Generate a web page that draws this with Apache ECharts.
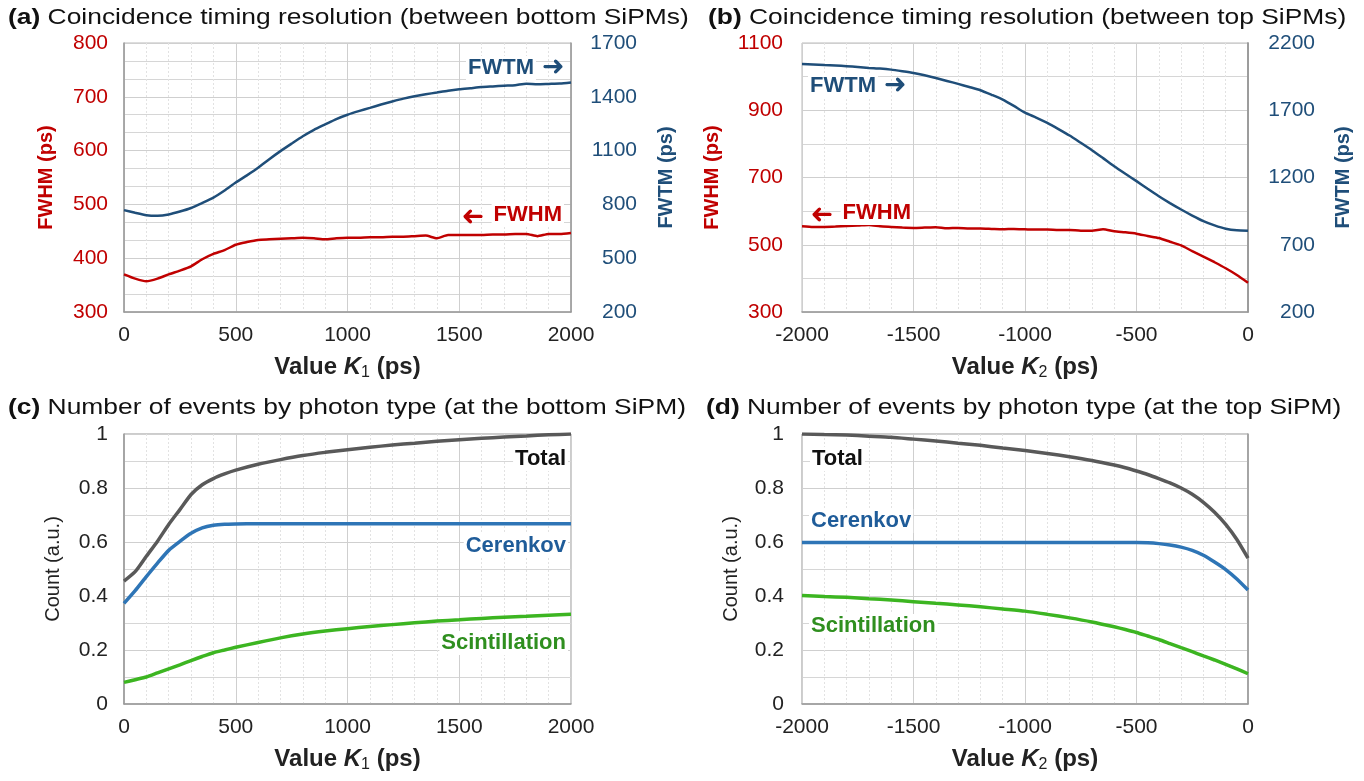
<!DOCTYPE html>
<html lang="en">
<head>
    <meta charset="UTF-8">
    <title>Coincidence timing resolution</title>
    <script src="https://cdn.jsdelivr.net/npm/echarts@6/dist/echarts.min.js"></script>
    <style>
        html, body { margin: 0; padding: 0; background: #fff; }
        #main { width: 1364px; height: 781px; }
    </style>
</head>
<body>
    <div id="main"></div>
    <script>
        // (a) bottom SiPMs, K1 in ps
        var k1Timing = [0, 50, 100, 150, 200, 250, 300, 350, 400, 450, 500, 550, 600, 650, 700, 750, 800, 850, 900, 950,
            1000, 1050, 1100, 1150, 1200, 1250, 1300, 1350, 1400, 1450, 1500, 1550, 1600, 1650, 1700, 1750, 1800, 1850, 1900, 1950, 2000];
        var fwhmBottom = [370, 362, 357, 362, 370, 377, 385, 398, 408, 415, 425, 430, 434, 435, 436, 437, 438, 437, 435, 437,
            438, 438, 439, 439, 440, 440, 441, 442, 437, 443, 443, 443, 443, 444, 444, 445, 445, 441, 445, 445, 447];
        var fwtmBottom = [768, 753, 740, 737, 744, 760, 780, 808, 838, 878, 922, 962, 1004, 1052, 1097, 1139, 1180, 1216, 1246, 1276,
            1300, 1320, 1338, 1357, 1374, 1390, 1403, 1414, 1424, 1434, 1442, 1448, 1454, 1458, 1462, 1465, 1473, 1470, 1472, 1474, 1480];

        // (b) top SiPMs, K2 in ps
        var k2Timing = [-2000, -1950, -1900, -1850, -1800, -1750, -1700, -1650, -1600, -1550, -1500, -1450, -1400, -1350, -1300, -1250,
            -1200, -1150, -1100, -1050, -1000, -950, -900, -850, -800, -750, -700, -650, -600, -550, -500, -450, -400, -350, -300,
            -250, -200, -150, -100, -50, 0];
        var fwhmTop = [555, 553, 553, 554, 556, 557, 559, 555, 553, 551, 550, 551, 552, 549, 550, 548,
            548, 547, 546, 547, 546, 545, 545, 544, 544, 542, 542, 546, 540, 537, 533, 526, 520, 509, 498,
            481, 465, 448, 430, 410, 387];
        var fwtmTop = [2044, 2040, 2036, 2033, 2028, 2022, 2015, 2010, 2002, 1990, 1977, 1960, 1940, 1918, 1896, 1873,
            1849, 1815, 1779, 1732, 1682, 1646, 1606, 1560, 1512, 1458, 1403, 1344, 1284, 1228, 1173, 1116, 1061, 1010, 962,
            917, 876, 844, 819, 807, 805];

        // (c) photon counts at bottom SiPM
        var k1Count = [0, 50, 100, 150, 200, 250, 300, 350, 400, 450, 500, 600, 700, 800, 900, 1000,
            1100, 1200, 1300, 1400, 1500, 1600, 1700, 1800, 1900, 2000];
        var totalBottom = [0.455, 0.49, 0.547, 0.603, 0.665, 0.72, 0.776, 0.812, 0.835, 0.852, 0.866, 0.888, 0.905, 0.92, 0.932, 0.942,
            0.951, 0.959, 0.966, 0.973, 0.979, 0.984, 0.989, 0.993, 0.997, 1.0];
        var cerenkovBottom = [0.373, 0.42, 0.472, 0.522, 0.569, 0.602, 0.632, 0.652, 0.662, 0.666, 0.667, 0.668, 0.668, 0.668, 0.668, 0.668,
            0.668, 0.668, 0.668, 0.668, 0.668, 0.668, 0.668, 0.668, 0.668, 0.668];
        var scintBottom = [0.08, 0.09, 0.1, 0.115, 0.13, 0.145, 0.161, 0.176, 0.19, 0.2, 0.21, 0.228, 0.245, 0.259, 0.27, 0.279,
            0.287, 0.294, 0.301, 0.307, 0.312, 0.317, 0.321, 0.325, 0.329, 0.332];

        // (d) photon counts at top SiPM
        var k2Count = [-2000, -1900, -1800, -1700, -1600, -1500, -1400, -1300, -1200, -1100, -1000, -900, -800, -700, -600,
            -550, -500, -450, -400, -350, -300, -250, -200, -150, -100, -50, 0];
        var totalTop = [1.0, 0.998, 0.996, 0.992, 0.988, 0.981, 0.974, 0.966, 0.958, 0.948, 0.939, 0.928, 0.916, 0.902, 0.885,
            0.875, 0.863, 0.85, 0.835, 0.819, 0.8, 0.777, 0.747, 0.71, 0.665, 0.609, 0.54];
        var cerenkovTop = [0.598, 0.598, 0.598, 0.598, 0.598, 0.598, 0.598, 0.598, 0.598, 0.598, 0.598, 0.598, 0.598, 0.598, 0.598,
            0.598, 0.598, 0.597, 0.594, 0.589, 0.581, 0.569, 0.551, 0.526, 0.498, 0.463, 0.422];
        var scintTop = [0.402, 0.398, 0.395, 0.39, 0.385, 0.379, 0.373, 0.367, 0.36, 0.352, 0.344, 0.332, 0.319, 0.304, 0.286,
            0.276, 0.265, 0.252, 0.239, 0.224, 0.209, 0.194, 0.178, 0.163, 0.147, 0.13, 0.112];

        var FONT = '"Liberation Sans", Arial, sans-serif';
        var RED = '#c00000';
        var NAVY = '#1f4e79';
        var GRAY = '#595959';
        var BLUE = '#2e75b6';
        var GREEN = '#3cb521';

        function pairs(xs, ys) {
            return xs.map(function (x, i) { return [x, ys[i]]; });
        }
        function plain(v) {
            return String(v);
        }

        var kName = function (n) {
            return '{b|Value }{i|K}{s|' + n + '}{b| (ps)}';
        };
        var kRich = {
            b: { fontFamily: FONT, fontSize: 24, fontWeight: 'bold', color: '#222', lineHeight: 28 },
            i: { fontFamily: FONT, fontSize: 24, fontWeight: 'bold', fontStyle: 'italic', color: '#222', lineHeight: 28 },
            s: { fontFamily: FONT, fontSize: 16, color: '#222', lineHeight: 17, verticalAlign: 'bottom' }
        };

        function xAxis(grid, min, max) {
            return {
                type: 'value', gridIndex: grid, min: min, max: max, interval: 500,
                name: kName(grid % 2 === 0 ? 1 : 2), nameLocation: 'middle', nameGap: 41,
                nameTextStyle: { rich: kRich },
                axisLine: { lineStyle: { color: '#999', width: 1.5 } },
                axisTick: { show: false },
                axisLabel: { color: '#222', fontFamily: FONT, fontSize: 21, margin: 13, formatter: plain },
                splitLine: { show: true, lineStyle: { color: '#cfcfcf', width: 1 } },
                minorTick: { show: false, splitNumber: 5 },
                minorSplitLine: { show: true, lineStyle: { color: '#e2e2e2', type: [2, 2], width: 1 } }
            };
        }

        function yAxis(grid, o) {
            return {
                type: 'value', gridIndex: grid, min: o.min, max: o.max, interval: o.interval,
                position: o.position || 'left',
                name: o.name, nameLocation: 'middle', nameGap: o.nameGap, nameRotate: 90,
                nameTextStyle: { color: o.nameColor, fontFamily: FONT, fontSize: o.nameSize || 20, fontWeight: o.nameWeight || 'bold' },
                axisLine: { show: true, lineStyle: { color: '#999', width: 1.5 } },
                axisTick: { show: false },
                axisLabel: { color: o.labelColor, fontFamily: FONT, fontSize: 21, margin: o.margin, align: 'right', formatter: plain },
                splitLine: { show: !!o.grid, lineStyle: { color: '#cfcfcf', width: 1 } },
                minorTick: { show: false, splitNumber: o.minor || 2 },
                minorSplitLine: { show: !!o.grid, lineStyle: { color: '#d6d6d6', width: 1 } }
            };
        }

        function line(name, xi, yi, xs, ys, color, width) {
            return {
                name: name, type: 'line', xAxisIndex: xi, yAxisIndex: yi,
                data: pairs(xs, ys), showSymbol: false, smooth: 0.2,
                lineStyle: { color: color, width: width }, itemStyle: { color: color },
                z: 5
            };
        }

        function label(text, x, y, color, align) {
            return {
                type: 'text', x: x, y: y, z: 100,
                style: {
                    text: text, fill: color, font: 'bold 22px ' + FONT,
                    textAlign: align, textVerticalAlign: 'middle',
                    backgroundColor: '#fff', padding: [1, 2]
                }
            };
        }

        function arrow(x, y, color, flip) {
            return {
                type: 'text', x: x, y: y, z: 100, rotation: flip ? Math.PI : 0,
                style: {
                    text: '\u279C', fill: color, font: 'bold 27px "DejaVu Sans", sans-serif',
                    textAlign: 'center', textVerticalAlign: 'middle'
                }
            };
        }

        // panel titles: the original lettering is set wide, so stretch it a little
        function title(text, x, y) {
            var parts = text.split(' ');
            return {
                type: 'text', x: x, y: y, scaleX: 1.2, z: 100,
                style: {
                    text: '{b|' + parts[0] + '} ' + parts.slice(1).join(' '),
                    font: '22px ' + FONT, fill: '#111',
                    textAlign: 'left', textVerticalAlign: 'middle',
                    rich: { b: { fontFamily: FONT, fontSize: 22, fontWeight: 'bold', fill: '#111' } }
                }
            };
        }

        var chart = echarts.init(document.getElementById('main'));
        chart.setOption({
            animation: false,
            backgroundColor: '#fff',
            grid: [
                { left: 124, top: 43, width: 447, height: 269, show: true, borderColor: '#bbb', borderWidth: 1 },
                { left: 802, top: 43, width: 446, height: 269, show: true, borderColor: '#bbb', borderWidth: 1 },
                { left: 124, top: 434, width: 447, height: 270, show: true, borderColor: '#999', borderWidth: 1 },
                { left: 802, top: 434, width: 446, height: 270, show: true, borderColor: '#999', borderWidth: 1 }
            ],
            xAxis: [
                xAxis(0, 0, 2000),
                xAxis(1, -2000, 0),
                xAxis(2, 0, 2000),
                xAxis(3, -2000, 0)
            ],
            yAxis: [
                yAxis(0, { min: 300, max: 800, interval: 100, minor: 3, grid: true, name: 'FWHM (ps)', nameColor: RED, labelColor: RED, nameGap: 68, margin: 16 }),
                yAxis(0, { min: 200, max: 1700, interval: 300, position: 'right', name: 'FWTM (ps)', nameColor: NAVY, labelColor: NAVY, nameGap: 85, margin: 66 }),
                yAxis(1, { min: 300, max: 1100, interval: 200, minor: 2, grid: true, name: 'FWHM (ps)', nameColor: RED, labelColor: RED, nameGap: 80, margin: 19 }),
                yAxis(1, { min: 200, max: 2200, interval: 500, position: 'right', name: 'FWTM (ps)', nameColor: NAVY, labelColor: NAVY, nameGap: 85, margin: 67 }),
                yAxis(2, { min: 0, max: 1, interval: 0.2, minor: 2, grid: true, name: 'Count (a.u.)', nameColor: '#222', labelColor: '#222', nameGap: 61, margin: 16, nameSize: 20, nameWeight: 'normal' }),
                yAxis(3, { min: 0, max: 1, interval: 0.2, minor: 2, grid: true, name: 'Count (a.u.)', nameColor: '#222', labelColor: '#222', nameGap: 61, margin: 18, nameSize: 20, nameWeight: 'normal' })
            ],
            series: [
                line('FWHM', 0, 0, k1Timing, fwhmBottom, RED, 2.5),
                line('FWTM', 0, 1, k1Timing, fwtmBottom, NAVY, 2.5),
                line('FWHM', 1, 2, k2Timing, fwhmTop, RED, 2.5),
                line('FWTM', 1, 3, k2Timing, fwtmTop, NAVY, 2.5),
                line('Total', 2, 4, k1Count, totalBottom, GRAY, 3.5),
                line('Cerenkov', 2, 4, k1Count, cerenkovBottom, BLUE, 3.5),
                line('Scintillation', 2, 4, k1Count, scintBottom, GREEN, 3.5),
                line('Total', 3, 5, k2Count, totalTop, GRAY, 3.5),
                line('Cerenkov', 3, 5, k2Count, cerenkovTop, BLUE, 3.5),
                line('Scintillation', 3, 5, k2Count, scintTop, GREEN, 3.5)
            ],
            graphic: [
                title('(a) Coincidence timing resolution (between bottom SiPMs)', 8, 18),
                title('(b) Coincidence timing resolution (between top SiPMs)', 708, 18),
                title('(c) Number of events by photon type (at the bottom SiPM)', 8, 408),
                title('(d) Number of events by photon type (at the top SiPM)', 706, 408),
                label('FWTM', 466, 68, NAVY, 'left'), arrow(553, 68, NAVY, false),
                arrow(473, 215, RED, true), label('FWHM', 564, 215, RED, 'right'),
                label('FWTM', 808, 86, NAVY, 'left'), arrow(895, 86, NAVY, false),
                arrow(822, 213, RED, true), label('FWHM', 913, 213, RED, 'right'),
                label('Total', 568, 459, '#111', 'right'),
                label('Cerenkov', 568, 546, '#1f5c99', 'right'),
                label('Scintillation', 568, 643, '#2f8f1f', 'right'),
                label('Total', 810, 459, '#111', 'left'),
                label('Cerenkov', 809, 521, '#1f5c99', 'left'),
                label('Scintillation', 809, 626, '#2f8f1f', 'left')
            ]
        });
    </script>
</body>
</html>
